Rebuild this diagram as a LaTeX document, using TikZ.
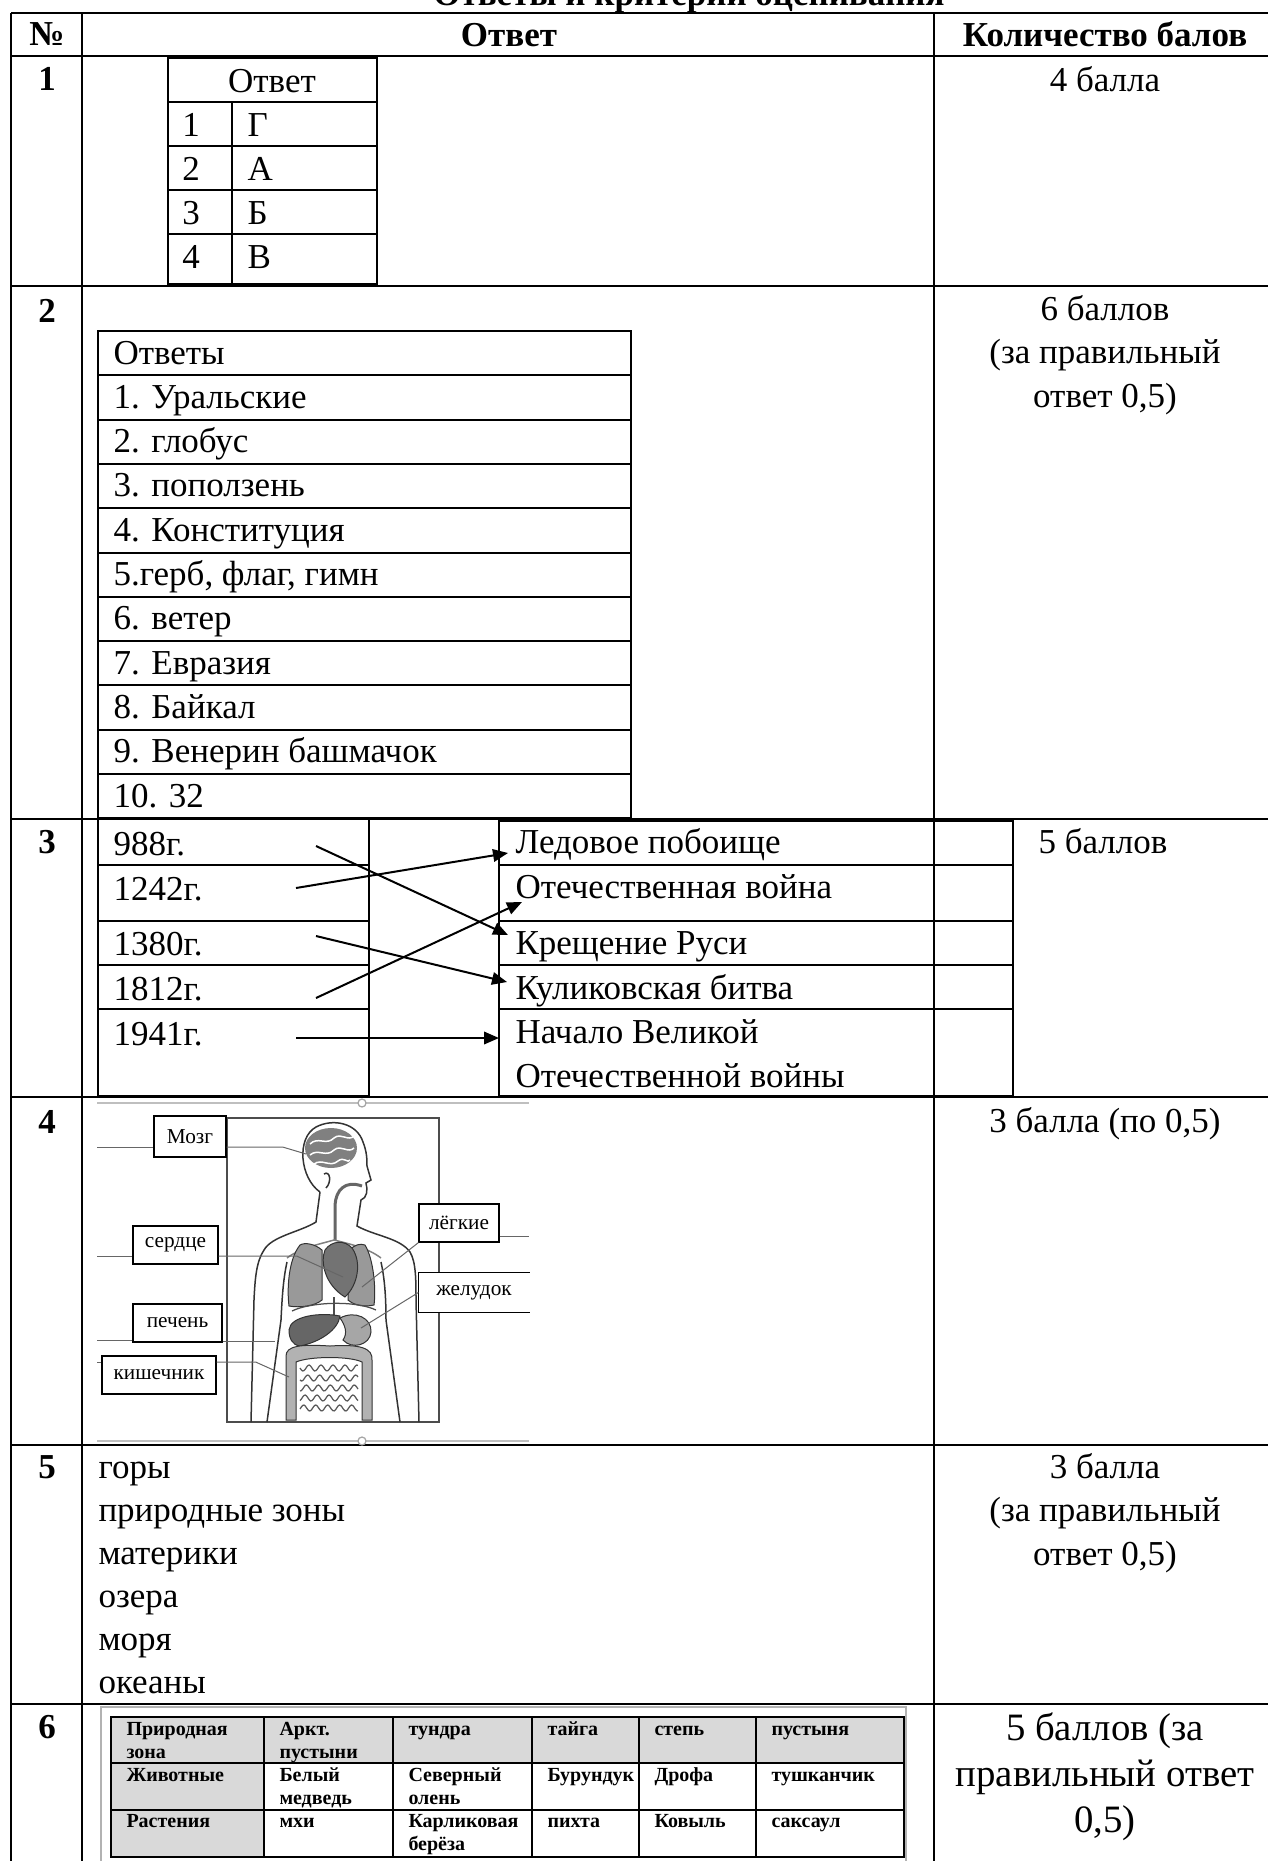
\documentclass[tikz,border=0pt]{standalone}
\usepackage{fontspec}
\setmainfont{Liberation Serif}
\usetikzlibrary{positioning}
\usetikzlibrary{arrows.meta}
\newcommand\ansfont{\fontsize{14}{17.4}\selectfont}
\newcommand\tagfont{\fontsize{8.5}{10}\selectfont}
\newcommand\zonefont{\fontsize{8}{9.3}\selectfont\bfseries}
\tikzstyle{rule}=[draw,line width=0.8pt]
\tikzstyle{thinrule}=[draw,line width=0.5pt]
\tikzstyle{txt}=[inner sep=0pt,anchor=base west,font=\ansfont]
\tikzstyle{ctxt}=[inner sep=0pt,anchor=base,font=\ansfont]
\tikzstyle{hdr}=[inner sep=0pt,anchor=base,font=\ansfont\bfseries]
\tikzstyle{arrowline}=[draw,line width=0.8pt,-{Triangle[length=6pt,width=5pt]}]
\tikzstyle{tag}=[draw,fill=white,line width=0.5pt,inner sep=0pt,font=\tagfont]
\tikzstyle{lead}=[draw=black!60,line width=0.4pt]
\tikzstyle{organ}=[draw=black!80,line width=0.4pt,fill=black!45]
\tikzstyle{zone}=[inner sep=0pt,anchor=base west,font=\zonefont]

\begin{document}
\begin{tikzpicture}[x=0.4pt,y=-0.4pt]
\useasboundingbox (0,0) rectangle (1268,1861);

% title, cut by the top edge
\node[hdr] (title) at (689,5) {Ответы и критерии оценивания};

% main grid
\foreach \yy in {12.7,55.7,286,819,1097,1445,1704}
  \draw[rule] (11,\yy) -- (1268,\yy);
\foreach \xx in {11,82,934}
  \draw[rule] (\xx,12.7) -- (\xx,1861);

\node[hdr] (hnum) at (47,45) {№};
\node[hdr] (hans) at (509,46) {Ответ};
\node[hdr] (hpts) at (1105,46) {Количество балов};

\foreach \n/\yy in {1/90, 2/322, 3/853, 4/1133, 5/1478, 6/1738}
  \node[hdr] (row\n) at (47,\yy) {\n};

% task 1
\draw[rule] (168,58) rectangle (377,284);
\foreach \yy in {102,146,190,234}
  \draw[rule] (168,\yy) -- (377,\yy);
\draw[rule] (232,102) -- (232,284);
\node[ctxt] (t1head) at (272,92) {Ответ};
\foreach \k/\ltr in {1/Г, 2/А, 3/Б, 4/В} {
  \node[ctxt] (t1n\k) at (191,{92+44*\k}) {\k};
  \node[txt] (t1l\k) at (247,{92+44*\k}) {\ltr};
}
\node[ctxt] (pts1) at (1105,91) {4 балла};

% task 2
\draw[rule] (98,331) rectangle (631,818);
\foreach \k in {1,...,10}
  \draw[rule] (98,{331+44.3*\k}) -- (631,{331+44.3*\k});
\foreach \k/\txt in {0/Ответы, 1/1. Уральские, 2/2. глобус, 3/3. поползень, 4/4. Конституция, 5/{5.герб, флаг, гимн}, 6/6. ветер, 7/7. Евразия, 8/8. Байкал, 9/9. Венерин башмачок, 10/10. 32}
  \node[txt] (t2a\k) at (113,{364+44.3*\k}) {\txt};
\foreach \k/\txt in {0/6 баллов, 1/{(за правильный}, 2/{ответ 0,5)}}
  \node[ctxt] (pts2l\k) at (1105,{320+43.5*\k}) {\txt};

% task 3
\draw[rule] (98,819) rectangle (369,1096);
\draw[rule] (499,821) rectangle (1013,1096);
\foreach \yy in {865,921,965,1009} {
  \draw[rule] (98,\yy) -- (369,\yy);
  \draw[rule] (499,\yy) -- (1013,\yy);
}
\foreach \name/\yy/\yr in {d988/855/988г., d1242/900/1242г., d1380/955/1380г., d1812/1000/1812г., d1941/1045/1941г.}
  \node[txt] (\name) at (113,\yy) {\yr};
\foreach \name/\yy/\ev in {eled/853/Ледовое побоище, eotech/898/Отечественная война, ekresh/954/Крещение Руси, ekulik/999/Куликовская битва, enach/1043/Начало Великой, enach2/1087/Отечественной войны}
  \node[txt] (\name) at (515,\yy) {\ev};

\coordinate (s988) at (316,846);
\coordinate (s1242) at (296,888);
\coordinate (s1380) at (316,936);
\coordinate (s1812) at (316,998);
\coordinate (s1941) at (296,1038);
\coordinate (led) at (508,853);
\coordinate (otech) at (522,902);
\coordinate (kresh) at (508,935);
\coordinate (kulik) at (507,982);
\coordinate (nach) at (499,1038);
\foreach \src/\dst in {s988/kresh, s1242/led, s1380/kulik, s1812/otech, s1941/nach}
  \path[arrowline] (\src) -- (\dst);

\node[txt] (pts3) at (1038,853) {5 баллов};

% task 4: picture of the body
\foreach \yy in {1103,1441} {
  \draw[black!25,line width=0.8pt] (97,\yy) -- (529,\yy);
  \draw[black!35,fill=white,line width=0.5pt] (362,\yy) circle[radius=1.6pt];
}
\draw[black!70,line width=0.5pt] (227,1118) rectangle (439,1422);

\begin{scope}[black!80,line width=0.6pt]
  % head and body outline
  \draw (320,1192) .. controls (300,1178) and (296,1138) .. (316,1127)
        .. controls (333,1118) and (357,1123) .. (363,1142)
        .. controls (367,1152) and (367,1160) .. (367,1166)
        -- (371,1180) -- (366,1183)
        .. controls (368,1190) and (367,1198) .. (361,1200) -- (357,1226)
        .. controls (375,1236) and (400,1238) .. (410,1252)
        .. controls (416,1262) and (416,1280) .. (416,1300) -- (419,1422);
  \draw (320,1192) -- (316,1222)
        .. controls (300,1232) and (272,1236) .. (264,1250)
        .. controls (256,1262) and (255,1280) .. (254,1300) -- (251,1422);
  \draw (287,1262) .. controls (283,1280) and (282,1300) .. (281,1320) -- (267,1422);
  \draw (381,1262) .. controls (385,1280) and (386,1300) .. (386,1320) -- (400,1422);
  \draw (324,1174) .. controls (330,1170) and (332,1182) .. (326,1188);
  \draw[black!60,line width=1.2pt] (362,1186) .. controls (345,1180) and (336,1190) .. (335,1205) -- (335,1240);
  \draw[black!50] (287,1258) .. controls (300,1248) and (320,1244) .. (334,1240)
        .. controls (350,1244) and (368,1248) .. (381,1258);
\end{scope}

% brain
\fill[black!50] (331,1148) ellipse[x radius=10.4pt,y radius=8pt];
\draw[white,line width=0.6pt] (310,1144) .. controls (318,1136) and (326,1146) .. (334,1138)
      .. controls (341,1132) and (348,1142) .. (354,1136);
\draw[white,line width=0.6pt] (310,1155) .. controls (318,1148) and (326,1158) .. (334,1150)
      .. controls (341,1144) and (348,1154) .. (354,1148);
\draw[white,line width=0.6pt] (314,1164) .. controls (322,1158) and (330,1168) .. (338,1161)
      .. controls (344,1156) and (348,1164) .. (350,1160);

% lungs, heart, liver, stomach
\path[organ,fill=black!40] (300,1245) .. controls (288,1260) and (287,1290) .. (289,1306)
      .. controls (300,1308) and (315,1306) .. (322,1300) -- (322,1250)
      .. controls (315,1244) and (305,1242) .. (300,1245) -- cycle;
\path[organ,fill=black!40] (365,1245) .. controls (374,1260) and (376,1290) .. (374,1305)
      .. controls (365,1307) and (355,1306) .. (348,1300) -- (350,1250)
      .. controls (354,1245) and (360,1243) .. (365,1245) -- cycle;
\path[organ,fill=black!55] (325,1250) .. controls (320,1262) and (325,1285) .. (345,1297)
      .. controls (358,1285) and (362,1262) .. (352,1248)
      .. controls (345,1240) and (332,1240) .. (325,1250) -- cycle;
\draw[black!70,line width=0.6pt] (334,1297) -- (334,1315);
\draw[black!70,line width=0.5pt] (292,1311) .. controls (310,1302) and (355,1300) .. (376,1310);
\path[organ,fill=black!60] (289,1330) .. controls (290,1316) and (320,1312) .. (340,1316)
      .. controls (338,1330) and (320,1342) .. (300,1346)
      .. controls (292,1345) and (289,1338) .. (289,1330) -- cycle;
\path[organ,fill=black!35] (340,1318) .. controls (355,1310) and (372,1318) .. (371,1332)
      .. controls (370,1345) and (352,1350) .. (343,1340)
      .. controls (348,1333) and (345,1325) .. (340,1318) -- cycle;

% intestines
\path[organ,fill=black!30] (286,1420) -- (286,1356) .. controls (286,1346) and (300,1344) .. (330,1346)
      .. controls (360,1344) and (373,1348) .. (372,1360) -- (372,1420) -- (362,1420) -- (362,1362)
      .. controls (350,1356) and (310,1356) .. (296,1362) -- (296,1420) -- cycle;
\foreach \j in {0,...,4}
  \draw[black!65,line width=0.5pt] plot[domain=300:358,samples=45] (\x,{1368+10*\j+3*sin(\x*30+40*\j)});

% labels of the organs
\node[tag,minimum width=28.8pt,minimum height=16.4pt] (mozg) at (190,1136.5) {Мозг};
\node[tag,minimum width=34pt,minimum height=15.2pt] (serdce) at (175.5,1245) {сердце};
\node[tag,minimum width=32pt,minimum height=15.2pt] (legkie) at (459,1223) {лёгкие};
\node[tag,minimum width=35.6pt,minimum height=15.2pt] (pechen) at (177.5,1323) {печень};
\node[tag,minimum width=45.6pt,minimum height=15.2pt] (kishka) at (159,1375) {кишечник};
\node[tag,draw=none,minimum width=44pt,minimum height=15.6pt] (zheludok) at (474,1292.5) {желудок};
\draw[line width=0.5pt] (zheludok.north east) -| (zheludok.south west) -- (zheludok.south east);

\coordinate (lmozg) at (97,1147);
\coordinate (lserd) at (97,1256);
\coordinate (lpech) at (97,1340);
\coordinate (lkish) at (97,1362);
\coordinate (rleg) at (529,1236);
\coordinate (brainpt) at (306,1154);
\coordinate (heartpt) at (343,1277);
\coordinate (lungpt) at (362,1287);
\coordinate (stomachpt) at (361,1328);
\coordinate (liverpt) at (275,1341);
\coordinate (gutpt) at (289,1377);

\path[lead] (lmozg) -- (mozg.west |- lmozg);
\path[lead] (mozg.east |- lmozg) -- ++(56,0) -- (brainpt);
\path[lead] (lserd) -- (serdce.west |- lserd);
\path[lead] (serdce.east |- lserd) -- ++(78,0) -- (heartpt);
\path[lead] (legkie.east |- rleg) -- (rleg);
\path[lead] (legkie.south west) -- (lungpt);
\path[lead] (zheludok.west) -- (stomachpt);
\path[lead] (lpech) -- (pechen.west |- lpech);
\path[lead] (pechen.east |- liverpt) -- (liverpt);
\path[lead] (lkish) -- (kishka.west |- lkish);
\path[lead] (kishka.east |- lkish) -- ++(39,0) -- (gutpt);

\node[ctxt] (pts4) at (1105,1132) {3 балла (по 0,5)};

% task 5
\foreach \k/\txt in {0/горы, 1/природные зоны, 2/материки, 3/озера, 4/моря, 5/океаны}
  \node[txt] (t5a\k) at (98,{1478+43*\k}) {\txt};
\foreach \k/\txt in {0/3 балла, 1/{(за правильный}, 2/{ответ 0,5)}}
  \node[ctxt] (pts5l\k) at (1105,{1478+43.5*\k}) {\txt};

% task 6: table of natural zones
\draw[black!30,line width=1pt] (101,1861) -- (101,1707) -- (906,1707) -- (906,1861);
\fill[black!15] (111,1717) rectangle (904,1763);
\fill[black!15] (111,1763) rectangle (264,1857);
\foreach \xx in {264,393,532,639,756}
  \draw[thinrule] (\xx,1717) -- (\xx,1857);
\foreach \yy in {1763,1810}
  \draw[thinrule] (111,\yy) -- (904,\yy);
\draw[line width=0.9pt] (111,1717) rectangle (904,1857);

\foreach \name/\xx/\yy/\txt in {
  z1/126/1735/Природная, z2/126/1758/зона, z3/279/1735/Аркт., z4/279/1758/пустыни,
  z5/408/1735/тундра, z6/547/1735/тайга, z7/654/1735/степь, z8/771/1735/пустыня,
  a1/126/1781/Животные, a2/279/1781/Белый, a3/279/1804/медведь, a4/408/1781/Северный,
  a5/408/1804/олень, a6/547/1781/Бурундук, a7/654/1781/Дрофа, a8/771/1781/тушканчик,
  p1/126/1827/Растения, p2/279/1827/мхи, p3/408/1827/Карликовая, p4/408/1850/берёза,
  p5/547/1827/пихта, p6/654/1827/Ковыль, p7/771/1827/саксаул}
  \node[zone] (\name) at (\xx,\yy) {\txt};

\foreach \k/\txt in {0/{5 баллов (за}, 1/правильный ответ, 2/{0,5)}}
  \node[ctxt,font=\fontsize{15.5}{19}\selectfont] (pts6l\k) at (1105,{1740+46*\k}) {\txt};

\end{tikzpicture}
\end{document}
